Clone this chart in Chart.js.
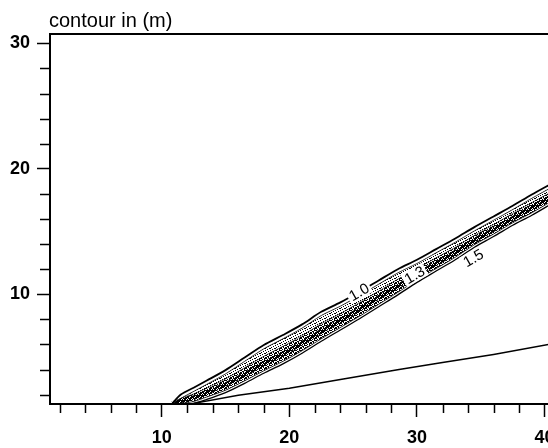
<!DOCTYPE html>
<html>
<head>
<meta charset="utf-8">
<script src="https://cdn.jsdelivr.net/npm/chart.js@4.4.1/dist/chart.umd.min.js"></script>
<style>
  html, body { margin: 0; padding: 0; overflow: hidden; background: #fff; }
  #wrap { width: 570px; height: 448px; }
</style>
</head>
<body>
<div id="wrap"><canvas id="myChart"></canvas></div>
<script>
// x positions shared by the contour lines of the band
const bandX = [10.8, 11.5, 12.5, 13.5, 15, 16.5, 18, 19.5, 21, 22.5, 24, 25.5, 27, 28.5, 30, 31.5, 33, 34.5, 36, 37.5, 39, 40.6];

// contour lines, from the upper edge of the band down to the lower edge
const upperEdgeY  = [1.25, 2.0, 2.55, 3.1, 3.95, 4.95, 5.95, 6.75, 7.6, 8.6, 9.35, 10.2, 11.1, 12.0, 12.75, 13.6, 14.45, 15.35, 16.2, 17.05, 17.95, 18.85];
const upperInnerY = [1.25, 1.7, 2.25, 2.8, 3.65, 4.65, 5.65, 6.45, 7.3, 8.3, 9.05, 9.9, 10.8, 11.7, 12.45, 13.3, 14.15, 15.05, 15.9, 16.75, 17.65, 18.55];
const midY        = [1.25, 1.7, 2.05, 2.5, 3.25, 4.15, 5.05, 5.85, 6.7, 7.65, 8.45, 9.35, 10.25, 11.2, 12.05, 12.9, 13.75, 14.7, 15.55, 16.45, 17.3, 18.2];
const coreY       = [1.25, 1.5, 1.75, 2.15, 2.8, 3.6, 4.5, 5.25, 6.1, 7.05, 7.9, 8.8, 9.75, 10.65, 11.6, 12.45, 13.35, 14.3, 15.15, 16.05, 16.9, 17.8];
const lowerInnerY = [1.25, 1.3, 1.45, 1.8, 2.35, 3.1, 3.9, 4.65, 5.5, 6.45, 7.35, 8.25, 9.2, 10.15, 11.15, 12.05, 12.95, 13.95, 14.8, 15.7, 16.5, 17.45];
const lowerEdgeY  = [1.25, 1.25, 1.3, 1.6, 2.15, 2.9, 3.7, 4.45, 5.3, 6.25, 7.15, 8.05, 9.0, 9.95, 10.95, 11.85, 12.75, 13.75, 14.6, 15.5, 16.3, 17.25];

// the straight line under the band
const lineX = [12.5, 16, 20, 24, 28.6, 32, 36, 40.6];
const lineY = [1.3, 1.95, 2.5, 3.2, 4.0, 4.55, 5.2, 6.05];

// contour labels
const contourLabels = ["1.0", "1.3", "1.5"];
const contourLabelX = [25.45, 29.8, 34.4];
const contourLabelY = [10.2, 11.55, 12.9];

// axis ticks
const xMajor = [10, 20, 30, 40];
const xMinor = [2, 4, 6, 8, 12, 14, 16, 18, 22, 24, 26, 28, 32, 34, 36, 38];
const yMajor = [10, 20, 30];
const yMinor = [2, 4, 6, 8, 12, 14, 16, 18, 22, 24, 26, 28];

Chart.defaults.font.family = '"Liberation Sans", Arial, Helvetica, sans-serif';
Chart.defaults.color = "#000";

// small tiles of dots used as stipple shading
function dotPattern(size, dots) {
  const c = document.createElement("canvas");
  c.width = size;
  c.height = size;
  const g = c.getContext("2d");
  g.fillStyle = "#000";
  dots.forEach(([x, y]) => g.fillRect(x, y, 1, 1));
  return g.createPattern(c, "repeat");
}

const lightDots = dotPattern(5, [[0, 0], [3, 1], [1, 2], [4, 3], [2, 4], [0, 3]]);
const midDots = dotPattern(5, [[1, 0], [4, 0], [2, 1], [0, 2], [3, 2], [1, 3], [4, 4], [2, 4]]);
const darkDots = dotPattern(5, [[0, 0], [2, 0], [3, 0], [1, 1], [4, 1], [0, 2], [2, 2], [3, 3], [1, 3], [4, 3], [0, 4], [2, 4]]);

function pts(xs, ys) {
  return xs.map((x, i) => ({ x: x, y: ys[i] }));
}

const framePlugin = {
  id: "frame",
  afterDraw(chart) {
    const c = chart.ctx;
    const a = chart.chartArea;
    const xs = chart.scales.x;
    const ys = chart.scales.y;
    c.save();
    c.strokeStyle = "#000";
    // top frame
    c.lineWidth = 2;
    c.beginPath();
    c.moveTo(a.left - 1, a.top);
    c.lineTo(a.right, a.top);
    c.stroke();
    // minor ticks
    c.lineWidth = 1.5;
    c.beginPath();
    xMinor.forEach((v) => {
      const px = Math.round(xs.getPixelForValue(v)) + 0.5;
      c.moveTo(px, a.bottom);
      c.lineTo(px, a.bottom + 9);
    });
    yMinor.forEach((v) => {
      const py = Math.round(ys.getPixelForValue(v)) + 0.5;
      c.moveTo(a.left - 10, py);
      c.lineTo(a.left, py);
    });
    c.stroke();
    // title
    c.fillStyle = "#000";
    c.font = '20px "Liberation Sans", Arial, sans-serif';
    c.textBaseline = "alphabetic";
    c.textAlign = "left";
    c.fillText("contour in (m)", a.left - 1, 27);
    c.restore();
  },
  afterDatasetsDraw(chart) {
    const c = chart.ctx;
    const xs = chart.scales.x;
    const ys = chart.scales.y;
    c.save();
    c.font = '15px "Liberation Sans", Arial, sans-serif';
    c.textAlign = "center";
    c.textBaseline = "middle";
    contourLabels.forEach((t, i) => {
      const px = xs.getPixelForValue(contourLabelX[i]);
      const py = ys.getPixelForValue(contourLabelY[i]);
      const w = c.measureText(t).width;
      c.save();
      c.translate(px, py);
      c.rotate(-0.52);
      c.fillStyle = "#fff";
      c.fillRect(-w / 2 - 2, -7, w + 4, 14);
      c.fillStyle = "#000";
      c.fillText(t, 0, 1);
      c.restore();
    });
    c.restore();
  },
};

const ctx = document.getElementById("myChart");

const chart = new Chart(ctx, {
  type: "line",
  data: {
    datasets: [
      {
        label: "upper edge",
        data: pts(bandX, upperEdgeY),
        borderColor: "#000",
        borderWidth: 1.8,
        fill: false,
        order: 1,
      },
      {
        label: "upper inner",
        data: pts(bandX, upperInnerY),
        borderColor: "#000",
        borderWidth: 0.8,
        fill: 4,
        backgroundColor: lightDots,
        order: 5,
      },
      {
        label: "mid",
        data: pts(bandX, midY),
        borderColor: "#000",
        borderWidth: 0.6,
        fill: 4,
        backgroundColor: midDots,
        order: 4,
      },
      {
        label: "core",
        data: pts(bandX, coreY),
        borderColor: darkDots,
        borderWidth: 4.5,
        fill: false,
        order: 3,
      },
      {
        label: "lower inner",
        data: pts(bandX, lowerInnerY),
        borderColor: "#000",
        borderWidth: 0.8,
        fill: false,
        order: 2,
      },
      {
        label: "lower edge",
        data: pts(bandX, lowerEdgeY),
        borderColor: "#000",
        borderWidth: 1.3,
        fill: false,
        order: 1,
      },
      {
        label: "line",
        data: pts(lineX, lineY),
        borderColor: "#000",
        borderWidth: 1.5,
        tension: 0,
        fill: false,
        order: 1,
      },
    ],
  },
  options: {
    responsive: true,
    maintainAspectRatio: false,
    animation: false,
    layout: {
      padding: { top: 34, right: 19, bottom: 0, left: 0 },
    },
    elements: {
      point: { radius: 0 },
      line: { tension: 0.3 },
    },
    scales: {
      x: {
        type: "linear",
        min: 1.25,
        max: 40.5,
        afterBuildTicks: (s) => {
          s.ticks = xMajor.map((v) => ({ value: v }));
        },
        afterFit: (s) => {
          s.height = 44;
        },
        grid: {
          drawOnChartArea: false,
          tickLength: 13,
          tickWidth: 1.5,
          tickColor: "#000",
        },
        border: { color: "#000", width: 2 },
        ticks: {
          color: "#000",
          font: { size: 18, weight: "bold" },
          padding: 10,
          maxRotation: 0,
          autoSkip: false,
        },
      },
      y: {
        type: "linear",
        min: 1.25,
        max: 30.75,
        afterBuildTicks: (s) => {
          s.ticks = yMajor.map((v) => ({ value: v }));
        },
        afterFit: (s) => {
          s.width = 50;
        },
        grid: {
          drawOnChartArea: false,
          tickLength: 13,
          tickWidth: 1.5,
          tickColor: "#000",
        },
        border: { color: "#000", width: 2 },
        ticks: {
          color: "#000",
          font: { size: 18, weight: "bold" },
          padding: 7,
          autoSkip: false,
        },
      },
    },
    plugins: {
      legend: { display: false },
      tooltip: { enabled: false },
      title: { display: false },
    },
  },
  plugins: [framePlugin],
});
</script>
</body>
</html>
